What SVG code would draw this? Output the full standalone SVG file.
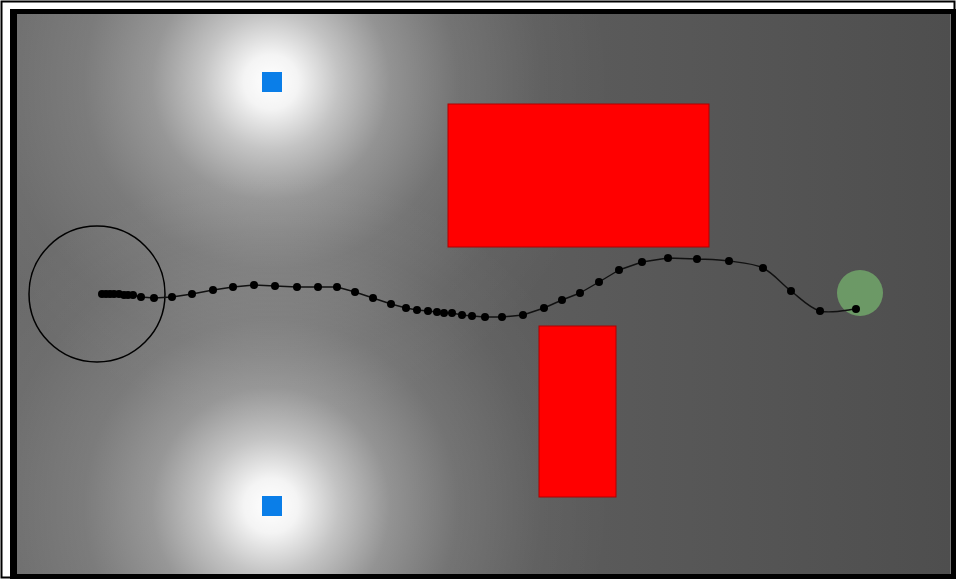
<svg xmlns="http://www.w3.org/2000/svg" width="956" height="579" viewBox="0 0 956 579">
<defs>
<linearGradient id="base" x1="0" y1="0" x2="1" y2="0">
<stop offset="0" stop-color="#6a6a6a"/>
<stop offset="0.5" stop-color="#5e5e5e"/>
<stop offset="1" stop-color="#4e4e4e"/>
</linearGradient>
<radialGradient id="glow" cx="0.5" cy="0.5" r="0.5">
<stop offset="0" stop-color="#fff" stop-opacity="1"/>
<stop offset="0.08" stop-color="#fff" stop-opacity="0.93"/>
<stop offset="0.2" stop-color="#fff" stop-opacity="0.62"/>
<stop offset="0.35" stop-color="#fff" stop-opacity="0.32"/>
<stop offset="0.55" stop-color="#fff" stop-opacity="0.13"/>
<stop offset="0.8" stop-color="#fff" stop-opacity="0.03"/>
<stop offset="1" stop-color="#fff" stop-opacity="0"/>
</radialGradient>
<clipPath id="field"><rect x="17" y="14" width="934" height="560"/></clipPath>
</defs>
<style>
.obs{fill:#ff0000;stroke:#b00000;stroke-width:1}
.light{fill:#0a7ee8}
.dot{fill:#000}
.path{fill:none;stroke:#111;stroke-width:1.4;stroke-linejoin:round}
</style>
<rect x="0" y="0" width="956" height="579" fill="#fff"/>
<rect x="1.5" y="1.5" width="953" height="576" fill="none" stroke="#000" stroke-width="2"/>
<rect x="10" y="9" width="946" height="570" fill="#000"/>
<g id="field-bg" clip-path="url(#field)">
<rect x="17" y="14" width="934" height="560" fill="url(#base)"/>
<circle cx="271" cy="82" r="340" fill="url(#glow)"/>
<circle cx="271" cy="506" r="340" fill="url(#glow)"/>
<rect x="950" y="14" width="1" height="560" fill="#777"/>
</g>
<g id="light-top"><rect class="light" x="262" y="72" width="20" height="20"/></g>
<g id="light-bottom"><rect class="light" x="262" y="496" width="20" height="20"/></g>
<g id="obstacle-large"><rect class="obs" x="448" y="104" width="261" height="143"/></g>
<g id="obstacle-small"><rect class="obs" x="539" y="326" width="77" height="171"/></g>
<g id="start"><circle cx="97" cy="294" r="68" fill="none" stroke="#000" stroke-width="1.5"/></g>
<g id="goal"><circle cx="860" cy="293" r="23" fill="#6c9966"/></g>
<g id="connectors">
<path class="path" d="M101,294 L133,295 L141,297 L154,298 L172,297 L192,294 L213,290 L233,287 L254,285 L275,286 L297,287 L318,287 L337,287 L355,292 L373,298 L391,304 L406,308 L417,310 L428,311 L437,312 L444,313 L452,313 L462,315 L472,316 L485,317 L502,317 L523,315 L544,308 L562,300 L580,293 L599,282 L619,270 L642,262 L668,258 L697,259 C707.2,259.5 718,259.5 729,261 C740,262.5 752.7,263 763,268 C773.3,273 781.5,283.8 791,291 C800.5,298.2 809.2,308 820,311 C830.8,314 850,309.3 856,309"/>
</g>
<g id="waypoints">
<circle class="dot" cx="102" cy="294" r="4"/>
<circle class="dot" cx="106" cy="294" r="4"/>
<circle class="dot" cx="110" cy="294" r="4"/>
<circle class="dot" cx="114" cy="294" r="4"/>
<circle class="dot" cx="119" cy="294" r="4"/>
<circle class="dot" cx="124" cy="295" r="4"/>
<circle class="dot" cx="128" cy="295" r="4"/>
<circle class="dot" cx="133" cy="295" r="4"/>
<circle class="dot" cx="141" cy="297" r="4"/>
<circle class="dot" cx="154" cy="298" r="4"/>
<circle class="dot" cx="172" cy="297" r="4"/>
<circle class="dot" cx="192" cy="294" r="4"/>
<circle class="dot" cx="213" cy="290" r="4"/>
<circle class="dot" cx="233" cy="287" r="4"/>
<circle class="dot" cx="254" cy="285" r="4"/>
<circle class="dot" cx="275" cy="286" r="4"/>
<circle class="dot" cx="297" cy="287" r="4"/>
<circle class="dot" cx="318" cy="287" r="4"/>
<circle class="dot" cx="337" cy="287" r="4"/>
<circle class="dot" cx="355" cy="292" r="4"/>
<circle class="dot" cx="373" cy="298" r="4"/>
<circle class="dot" cx="391" cy="304" r="4"/>
<circle class="dot" cx="406" cy="308" r="4"/>
<circle class="dot" cx="417" cy="310" r="4"/>
<circle class="dot" cx="428" cy="311" r="4"/>
<circle class="dot" cx="437" cy="312" r="4"/>
<circle class="dot" cx="444" cy="313" r="4"/>
<circle class="dot" cx="452" cy="313" r="4"/>
<circle class="dot" cx="462" cy="315" r="4"/>
<circle class="dot" cx="472" cy="316" r="4"/>
<circle class="dot" cx="485" cy="317" r="4"/>
<circle class="dot" cx="502" cy="317" r="4"/>
<circle class="dot" cx="523" cy="315" r="4"/>
<circle class="dot" cx="544" cy="308" r="4"/>
<circle class="dot" cx="562" cy="300" r="4"/>
<circle class="dot" cx="580" cy="293" r="4"/>
<circle class="dot" cx="599" cy="282" r="4"/>
<circle class="dot" cx="619" cy="270" r="4"/>
<circle class="dot" cx="642" cy="262" r="4"/>
<circle class="dot" cx="668" cy="258" r="4"/>
<circle class="dot" cx="697" cy="259" r="4"/>
<circle class="dot" cx="729" cy="261" r="4"/>
<circle class="dot" cx="763" cy="268" r="4"/>
<circle class="dot" cx="791" cy="291" r="4"/>
<circle class="dot" cx="820" cy="311" r="4"/>
<circle class="dot" cx="856" cy="309" r="4"/>
</g>
</svg>
